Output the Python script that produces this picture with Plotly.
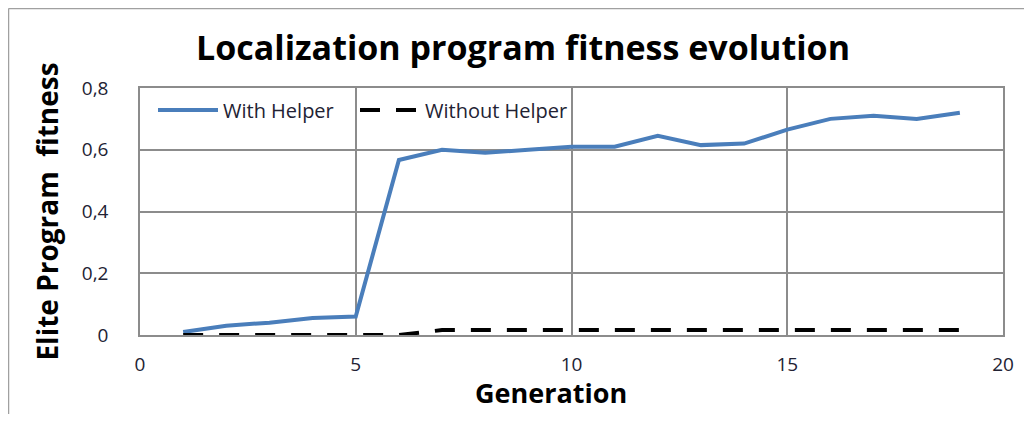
import plotly.graph_objects as go

generations = list(range(1, 20))
with_helper = [0.01, 0.03, 0.04, 0.055, 0.06, 0.567, 0.60, 0.59, 0.60, 0.61, 0.61,
               0.645, 0.615, 0.62, 0.665, 0.70, 0.71, 0.70, 0.72]
without_helper = [0.0, 0.0, 0.0, 0.0, 0.0, 0.0, 0.016, 0.016, 0.016, 0.016, 0.016,
                  0.016, 0.016, 0.016, 0.016, 0.016, 0.016, 0.016, 0.016]
x_ticks = [0, 5, 10, 15, 20]
y_ticks = [0, 0.2, 0.4, 0.6, 0.8]
y_labels = ["0", "0,2", "0,4", "0,6", "0,8"]

OFF = 8  # default page body margin
W, H = 1032 - 2 * OFF, 422 - 2 * OFF
# screen coordinates of plot area
SX0, SX1, SY0, SY1 = 140, 1003, 88, 335
L = SX0 - OFF
R = W - (SX1 - OFF)
T = SY0 - OFF
B = H - (SY1 - OFF)
pw = W - L - R
ph = H - T - B


def px(xs):
    return (xs - OFF - L) / pw


def py(ys):
    return (H - B - (ys - OFF)) / ph


FONT = "Open Sans, Liberation Sans, sans-serif"
fig = go.Figure()
fig.add_trace(go.Scatter(x=generations, y=with_helper, mode="lines", name="With Helper",
                         line=dict(color="#4a7ebb", width=4), legend="legend"))
fig.add_trace(go.Scatter(x=generations, y=without_helper, mode="lines", name="Without Helper",
                         line=dict(color="black", width=4, dash="20px,16px"), legend="legend2"))

grid = "#8c8c8c"
tickfont = dict(family=FONT, size=19, color="#222233")
legfont = dict(family=FONT, size=20, color="#222233")
fig.update_layout(
    width=W, height=H,
    margin=dict(l=L, r=R, t=T, b=B, autoexpand=False),
    paper_bgcolor="white", plot_bgcolor="white",
    title=dict(text="<b>Localization program fitness evolution</b>", x=(523 - OFF) / W, xanchor="center",
               y=1 - (48 - OFF) / H, yanchor="middle",
               font=dict(family=FONT, size=34, color="black")),
    xaxis=dict(range=[0, 20], tickvals=x_ticks, showgrid=True, gridcolor=grid, gridwidth=1.5,
               showline=True, linecolor=grid, linewidth=1.5, mirror=True, zeroline=False,
               tickfont=tickfont, ticks="", ticklabelstandoff=11),
    yaxis=dict(range=[0, 0.8], tickvals=y_ticks, ticktext=y_labels, showgrid=True, gridcolor=grid,
               gridwidth=1.5, showline=True, linecolor=grid, linewidth=1.5, mirror=True,
               zeroline=False, tickfont=tickfont, ticklabelstandoff=26, ticks="",
               title=dict(text="<b>Elite Program  fitness</b>",
                          font=dict(family=FONT, size=28, color="black"))),
    legend=dict(x=px(153), y=py(110), xanchor="left", yanchor="middle",
                bgcolor="rgba(0,0,0,0)", font=legfont, itemwidth=60),
    legend2=dict(x=px(355), y=py(110), xanchor="left", yanchor="middle",
                 bgcolor="rgba(0,0,0,0)", font=legfont, itemwidth=60),
    showlegend=True,
)

fig.add_annotation(text="<b>Generation</b>", xref="paper", yref="paper", x=px(551), y=py(413),
                   xanchor="center", yanchor="bottom", showarrow=False,
                   font=dict(family=FONT, size=27, color="black"))

border = dict(color="#a0a0a0", width=1.5)
fig.add_shape(type="line", xref="paper", yref="paper", x0=px(8.5), x1=px(8.5), y0=py(8.5), y1=py(430), line=border)
fig.add_shape(type="line", xref="paper", yref="paper", x0=px(8.5), x1=px(1040), y0=py(8.5), y1=py(8.5), line=border)

fig.write_html("out.html")
